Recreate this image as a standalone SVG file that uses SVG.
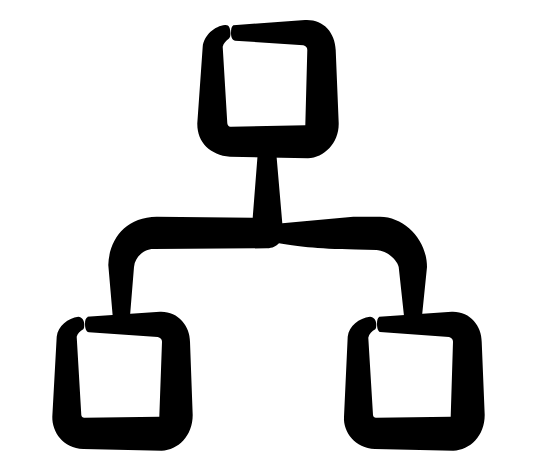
<svg xmlns="http://www.w3.org/2000/svg" width="536" height="470" viewBox="0 0 536 470">
<style>.s{fill:#000;stroke:none;fill-rule:evenodd}</style>
<rect width="536" height="470" fill="#fff"/>
<g id="connectors">
<path class="s" d="M258,150 L252.7,217.7 L156.7,216.7 C125,217 109,240 108.3,265 L112.7,316 L130,316 L134,267 C135,256 145,249 153.3,249 L266.7,248.3 C273,248.3 276,246 279,243.3 C295,246 315,249 356,249.5 L376.7,250 C388,251 397,260 398.7,267 L404,316 L422,316 L427,267 C427,240 405,217 380,216.7 L353.3,216.7 L282.3,223.3 L276,150 Z"/>
</g>
<g id="node-top">
<path class="s" d="M233.3,25.3 L305,20 C323,19 335,32 335.7,50 L338.7,123.3 C339,143 324,157.5 308,158.3 L230,156.7 C210,155 197,142 197.3,123.3 L202.7,46.7 C204,35 215,26 225,25 C229,24.5 230.3,28 230.5,33.3 C230.5,36 230,37.5 229,38.5 C226,41 223.5,43 222.7,46.7 L227.3,123.3 C227.7,126 229,127 231,126.7 L305.3,125.3 L307.3,50 C307.3,47.5 306,46 303.3,45.3 L235,40.7 C232,40 231,37 231,33.3 C231,29 231.5,26.5 233.3,25.3 Z"/>
</g>
<g id="node-left">
<path class="s" d="M86.7,316.7 L160,311.7 C178,311 190,326 190,341.7 L192.7,415 C192.7,436 178,450 161.7,450.7 L83.3,449 C63,448 52,432 52.3,416.7 L56.7,336.7 C58,326 68,318 78.3,316.7 C82,317 84,320 84.3,324 C84.3,327 84,328.5 83.3,329.3 C80,331 77.5,334 76.7,336.7 L81.3,415 C81.7,417 82.5,417.7 84.3,417.7 L159.3,416.7 L162,341.7 C162,339 160.5,338 157.7,337 L89,332.3 C86,332 85,328 85,324 C85,320.5 85.5,318 88,316.7 Z"/>
</g>
<g id="node-right">
<path class="s" d="M379.3,316.7 L451.7,311.7 C470,311 481.7,326 481.7,341.7 L484.7,415 C484.7,436 470,450 453.3,450.7 L375,449 C355,448 343,432 344,416.7 L347.7,336.7 C349,326 359,318 370,316.7 C374,317 376,320 376.3,324 C376.3,327 376,328.5 375.3,329.3 C372,331 369,334 368.3,337.7 L373,415 C373.3,417 374.3,417.7 376,417.7 L450.7,416.7 L453,341.7 C453,339 451.5,338 449,337 L380,332 C378,331.5 377,328 377,324 C377,320.5 377.5,318 379.3,316.7 Z"/>
</g>
</svg>
